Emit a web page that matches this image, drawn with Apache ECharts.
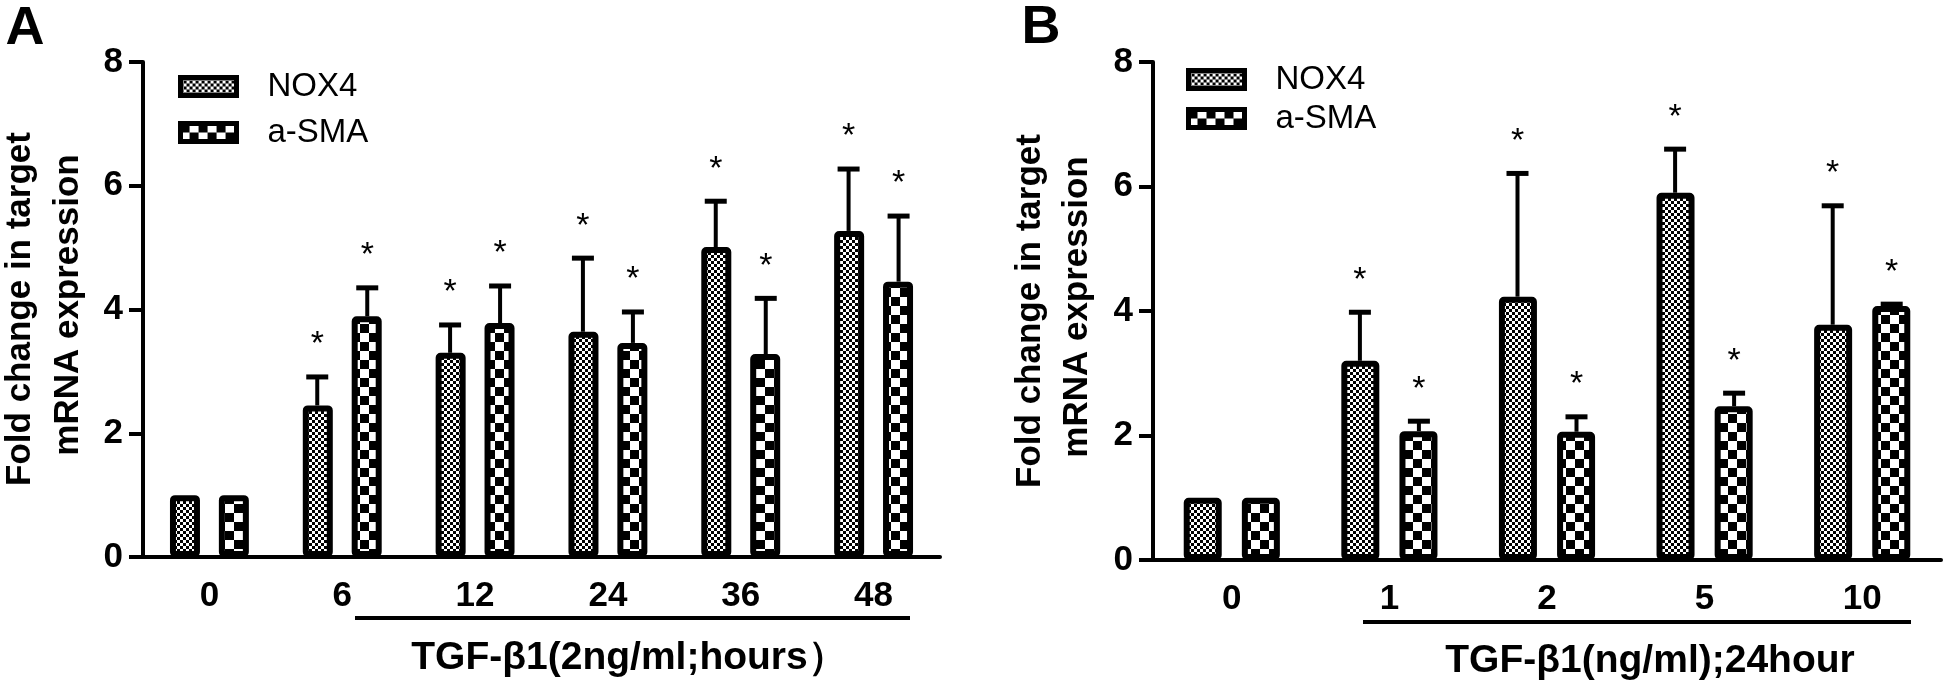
<!DOCTYPE html>
<html>
<head>
<meta charset="utf-8">
<script src="https://cdn.jsdelivr.net/npm/echarts@6/dist/echarts.min.js"></script>
<style>
  html, body { margin: 0; padding: 0; background: #fff; }
  #board { width: 1946px; height: 688px; }
</style>
</head>
<body>
<div id="board"></div>
<script>
// panel A: TGF-b1 2 ng/ml, time course (hours)
var hoursA = ["0", "6", "12", "24", "36", "48"];
var nox4A = [1.0, 2.45, 3.30, 3.64, 5.01, 5.27];
var nox4SdA = [0, 0.46, 0.45, 1.19, 0.74, 1.00];
var smaA = [1.0, 3.89, 3.78, 3.46, 3.28, 4.45];
var smaSdA = [0, 0.46, 0.60, 0.50, 0.90, 1.06];

// panel B: dose (ng/ml), 24 hours
var doseB = ["0", "1", "2", "5", "10"];
var nox4B = [1.0, 3.20, 4.23, 5.90, 3.78];
var nox4SdB = [0, 0.78, 1.98, 0.70, 1.91];
var smaB = [1.0, 2.07, 2.06, 2.47, 4.08];
var smaSdB = [0, 0.16, 0.24, 0.21, 0.03];

var yTicks = [0, 2, 4, 6, 8];

var FONT = "'Liberation Sans', Arial, sans-serif";

// checker fills for the two series
function checker(cell, color) {
  var c = document.createElement("canvas");
  c.width = c.height = cell * 2;
  var ctx = c.getContext("2d");
  ctx.fillStyle = "#fff";
  ctx.fillRect(0, 0, cell * 2, cell * 2);
  ctx.fillStyle = color;
  ctx.fillRect(0, 0, cell, cell);
  ctx.fillRect(cell, cell, cell, cell);
  return c;
}
var fineFill = { image: checker(3, "#000"), repeat: "repeat" };
var coarseFill = { image: checker(9, "#000"), repeat: "repeat" };

function toRows(means, sds) {
  return means.map(function (m, i) { return [i, m, sds[i]]; });
}

// whisker (upper SD only) + significance star
function errRender(shift) {
  return function (params, api) {
    var i = api.value(0);
    var mean = api.value(1);
    var sd = api.value(2);
    var top = api.coord([i, mean]);
    var hi = api.coord([i, mean + sd]);
    var x = top[0] + shift;
    var kids = [];
    if (sd > 0) {
      kids.push({ type: "line", shape: { x1: x, y1: top[1], x2: x, y2: hi[1] },
        style: { stroke: "#000", lineWidth: 4 } });
      kids.push({ type: "line", shape: { x1: x - 11, y1: hi[1], x2: x + 11, y2: hi[1] },
        style: { stroke: "#000", lineWidth: 5 } });
    }
    if (i > 0) {
      kids.push({ type: "text", x: x, y: hi[1] - 32,
        style: { text: "*", fontSize: 34, fontFamily: FONT, fill: "#000",
          align: "center", verticalAlign: "middle" } });
    }
    return { type: "group", children: kids };
  };
}

function yAxisOpt(grid) {
  return {
    type: "value", gridIndex: grid,
    min: yTicks[0], max: yTicks[yTicks.length - 1], interval: yTicks[1] - yTicks[0],
    splitLine: { show: false },
    axisLine: { show: true, lineStyle: { color: "#000", width: 4 } },
    axisTick: { show: true, length: 14, lineStyle: { color: "#000", width: 4 } },
    axisLabel: { margin: 20, color: "#000", fontSize: 35, fontWeight: "bold", fontFamily: FONT }
  };
}

function xAxisOpt(grid, cats) {
  return {
    type: "category", gridIndex: grid, data: cats,
    axisLine: { lineStyle: { color: "#000", width: 4 } },
    axisTick: { alignWithLabel: true, length: 14, lineStyle: { color: "#000", width: 4 } },
    axisLabel: { margin: 22, color: "#000", fontSize: 35, fontWeight: "bold", fontFamily: FONT }
  };
}

function barSeries(name, grid, data, fill, width, gap) {
  return {
    name: name, type: "bar", xAxisIndex: grid, yAxisIndex: grid,
    data: data, barWidth: width, barGap: gap,
    itemStyle: { color: fill, borderColor: "#000", borderWidth: 6, borderRadius: 2 }
  };
}

function errSeries(grid, rows, shift) {
  return {
    type: "custom", xAxisIndex: grid, yAxisIndex: grid, z: 5,
    data: rows, encode: { x: 0, y: 1 },
    renderItem: errRender(shift)
  };
}

function legendOpt(left, top, gap) {
  return {
    data: ["NOX4", "a-SMA"], orient: "vertical", left: left, top: top,
    padding: 0, itemGap: gap, itemWidth: 56, itemHeight: 18, icon: "rect",
    itemStyle: { borderColor: "#000", borderWidth: 5 },
    textStyle: { fontSize: 33, color: "#000", fontFamily: FONT, lineHeight: 20,
      padding: [0, 0, 0, 26] }
  };
}

function label(x, y, text, size, weight, rot) {
  return {
    type: "text", x: x, y: y, rotation: rot || 0,
    style: { text: text, fontSize: size, fontWeight: weight, fontFamily: FONT,
      fill: "#000", align: "center", verticalAlign: "middle" }
  };
}

function rule(x1, x2, y) {
  return { type: "line", shape: { x1: x1, y1: y, x2: x2, y2: y },
    style: { stroke: "#000", lineWidth: 4 } };
}

var chart = echarts.init(document.getElementById("board"));
chart.setOption({
  animation: false,
  backgroundColor: "#fff",
  grid: [
    { left: 143, top: 62, width: 797, height: 495 },
    { left: 1153, top: 62, width: 788, height: 498 }
  ],
  xAxis: [xAxisOpt(0, hoursA), xAxisOpt(1, doseB)],
  yAxis: [yAxisOpt(0), yAxisOpt(1)],
  legend: [legendOpt(178, 70, 13), legendOpt(1186, 63, 6)],
  series: [
    barSeries("NOX4", 0, nox4A, fineFill, 30, "63%"),
    barSeries("a-SMA", 0, smaA, coarseFill, 30, "63%"),
    errSeries(0, toRows(nox4A, nox4SdA), -25),
    errSeries(0, toRows(smaA, smaSdA), 25),
    barSeries("NOX4", 1, nox4B, fineFill, 38, "53%"),
    barSeries("a-SMA", 1, smaB, coarseFill, 38, "53%"),
    errSeries(1, toRows(nox4B, nox4SdB), -29.5),
    errSeries(1, toRows(smaB, smaSdB), 29.5)
  ],
  graphic: [
    label(25, 29, "A", 54, "bold"),
    label(1041, 28, "B", 54, "bold"),
    label(20, 309, "Fold change in target", 35, "bold", Math.PI / 2),
    label(68, 305, "mRNA expression", 35, "bold", Math.PI / 2),
    label(1030, 311, "Fold change in target", 35, "bold", Math.PI / 2),
    label(1077, 307, "mRNA expression", 35, "bold", Math.PI / 2),
    rule(355, 910, 618),
    rule(1363, 1911, 622),
    label(629, 658, "TGF-β1(2ng/ml;hours）", 39, "bold"),
    label(1650, 661, "TGF-β1(ng/ml);24hour", 39, "bold")
  ]
});
</script>
</body>
</html>
